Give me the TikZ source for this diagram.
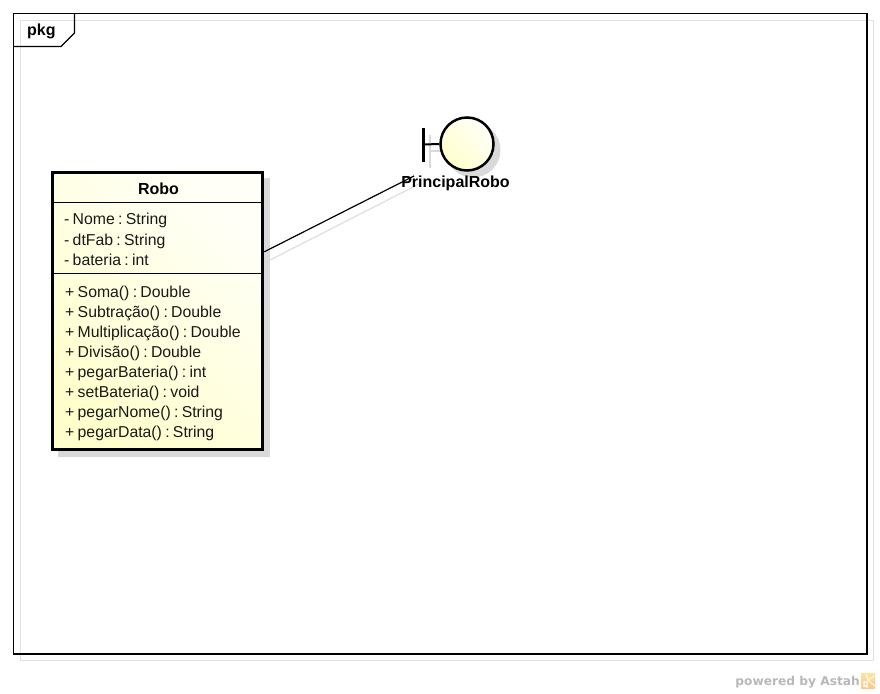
\documentclass[tikz,border=0pt]{standalone}
\usepackage{fontspec}
\setmainfont[WordSpace=0.75]{Liberation Sans}
\newfontfamily\brandfont{DejaVu Sans}
\usetikzlibrary{calc}
\frenchspacing
\definecolor{shadowgray}{RGB}{217,217,217}
\definecolor{framegray}{RGB}{224,224,224}
\definecolor{notewhite}{RGB}{255,255,248}
\definecolor{noteyellow}{RGB}{255,255,204}
\definecolor{brandgray}{RGB}{184,184,184}
\tikzset{
  umltext/.style={font=\fontsize{15.8}{16}\selectfont,anchor=base west,inner sep=0pt,text=black!90},
  umlbold/.style={font=\fontsize{16}{16}\selectfont\bfseries,inner sep=0pt,text=black},
  classbody/.style={draw=black,line width=3pt,shading=axis,left color=notewhite,right color=noteyellow,shading angle=-45,minimum width=210.2pt,minimum height=276.7pt,inner sep=0pt},
  boundarycircle/.style={circle,draw=black,line width=2.5pt,shading=axis,left color=notewhite,right color=noteyellow,shading angle=-45,minimum size=53pt,inner sep=0pt},
  thin rule/.style={draw=black,line width=1.1pt},
}
\begin{document}
\begin{tikzpicture}[x=1pt,y=-1pt]
\useasboundingbox (0,0) rectangle (880,693);
% frame shadow and frame
\draw[framegray,line width=1.3pt] (20.5,20.5) rectangle (873.5,660.5);
\draw[black,line width=1.1pt] (13.5,13.5) rectangle (867,654);
\draw[black,line width=1.1pt] (13,46.5) -- (61,46.5) -- (74.5,33) -- (74.5,13.5);
\node[umlbold,anchor=base west] (pkglabel) at (27,36) {pkg};
% shadows
\fill[shadowgray] (57.5,177.5) rectangle (270,457);
\fill[shadowgray] (473,150) circle (27.5);
\draw[shadowgray,line width=2.5pt] (430,135) -- (430,168);
\draw[shadowgray,line width=2pt] (430,151) -- (446,151);
\draw[framegray,line width=1.3pt] (270,260) -- (421,183);
% class
\node[classbody] (robo) at (157.7,310.9) {};
\draw[thin rule] (robo.west |- 0,202.5) -- (robo.east |- 0,202.5);
\draw[thin rule] (robo.west |- 0,273.5) -- (robo.east |- 0,273.5);
\node[umlbold,anchor=base] (roboname) at (158.5,194.5) {Robo};
\node[umltext] (a1) at (64,224.5) {- Nome : String};
\node[umltext] (a2) at (64,245.5) {- dtFab : String};
\node[umltext] (a3) at (64,265.5) {- bateria : int};
\node[umltext] (o1) at (65,297) {+ Soma() : Double};
\node[umltext] (o2) at (65,317) {+ Subtração() : Double};
\node[umltext] (o3) at (65,337) {+ Multiplicação() : Double};
\node[umltext] (o4) at (65,357) {+ Divisão() : Double};
\node[umltext] (o5) at (65,377) {+ pegarBateria() : int};
\node[umltext] (o6) at (65,397) {+ setBateria() : void};
\node[umltext] (o7) at (65,417) {+ pegarNome() : String};
\node[umltext] (o8) at (65,437) {+ pegarData() : String};
% boundary
\node[boundarycircle] (boundary) at (467,144) {};
\coordinate (barmid) at (423.5,144.5);
\draw[black,line width=2.5pt] ($(barmid)+(0,-17)$) -- ($(barmid)+(0,17)$);
\draw[black,line width=2pt] (barmid) -- (boundary.west);
% connector
\coordinate (linkend) at (414,176);
\draw[black,line width=1.2pt] (robo.29) -- (linkend);
\node[umlbold,anchor=base] (plabel) at (455.5,187.5) {PrincipalRobo};
% brand
\node[font=\fontsize{12.2}{12.2}\selectfont\bfseries\brandfont,text=brandgray,inner sep=0pt,anchor=base east] (brand) at (860,685) {powered by Astah};
\shade[top color=yellow!45!orange!40,bottom color=orange!45] (861,673) rectangle (875,688);
\draw[white,line width=1pt] (866,674) -- (868,680) -- (874,676) (868,680) -- (875,686);
\draw[white,line width=1.2pt] (864,687) -- (864,682) -- (867,682) -- (867,687) -- (864,685);
\end{tikzpicture}
\end{document}
